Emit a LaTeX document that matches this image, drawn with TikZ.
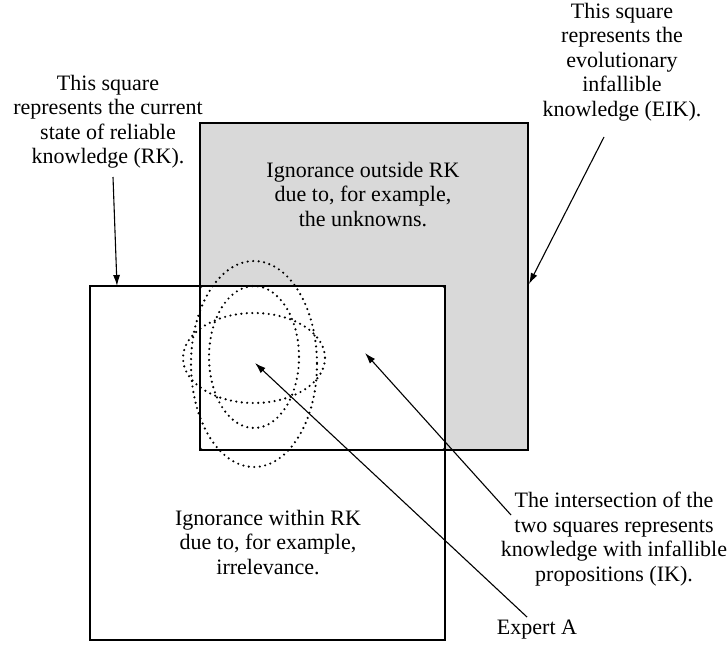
\documentclass[tikz,border=0pt]{standalone}
\usepackage{fontspec}
\setmainfont{Liberation Serif}
\usetikzlibrary{arrows.meta}
\definecolor{eikgray}{RGB}{217,217,217}
\begin{document}
\begin{tikzpicture}[x=1pt,y=-1pt,
  label/.style={align=center, anchor=north, inner sep=0pt,
                font=\fontsize{22}{24.5}\selectfont},
  sqline/.style={line width=1.4pt},
  pointer/.style={line width=1.1pt, -{Latex[length=11pt,width=7pt]}},
  dotline/.style={line width=2.4pt, line cap=round, dash pattern=on 0pt off 5.5pt}]
\useasboundingbox (0,0) rectangle (727,645);

% corners of the two squares
\coordinate (rkNW) at (90,286);
\coordinate (rkSE) at (445,640);
\coordinate (eikNW) at (200,123);
\coordinate (eikSE) at (528,450);

% evolutionary infallible knowledge (grey) and reliable knowledge (white)
\fill[eikgray] (eikNW) rectangle (eikSE);
\fill[white] (rkNW) rectangle (rkSE);
\draw[sqline, fill=white, rounded corners=3pt] (eikNW |- rkNW) rectangle (rkSE |- eikSE);
\draw[sqline] (eikNW) rectangle (eikSE);
\draw[sqline] (rkNW) rectangle (rkSE);

% expert A's ranges of knowledge
\coordinate (ecenter) at (255,363);
\draw[dotline] (254,364) ellipse [x radius=63, y radius=103];
\draw[dotline] (254,357) ellipse [x radius=45, y radius=71];
\draw[dotline] (254,358) ellipse [x radius=71, y radius=45];

% labels
\node[label] (rklabel) at (108,75) {This square\\represents the current\\state of reliable\\knowledge (RK).};
\node[label] (eiklabel) at (622,3) {This square\\represents the\\evolutionary\\infallible\\knowledge (EIK).};
\node[label] (outside) at (363,162) {Ignorance outside RK\\due to, for example,\\the unknowns.};
\node[label] (within) at (268,510) {Ignorance within RK\\due to, for example,\\irrelevance.};
\node[label] (iklabel) at (614,492) {The intersection of the\\two squares represents\\knowledge with infallible\\propositions (IK).};
\node[label] (expert) at (537,620) {Expert A};

% pointer ends
\coordinate (rkTail) at (113,177);
\coordinate (rkTip) at (117,286);
\coordinate (eikTail) at (604,137);
\coordinate (eikTip) at (529,284);
\coordinate (ikTail) at (511,515);
\coordinate (ikTip) at (365,353);
\coordinate (exTail) at (527,617);

\draw[pointer] (rkTail) -- (rkTip);
\draw[pointer] (eikTail) -- (eikTip);
\draw[pointer] (ikTail) -- (ikTip);
\draw[pointer] (exTail) -- (ecenter);
\end{tikzpicture}
\end{document}
